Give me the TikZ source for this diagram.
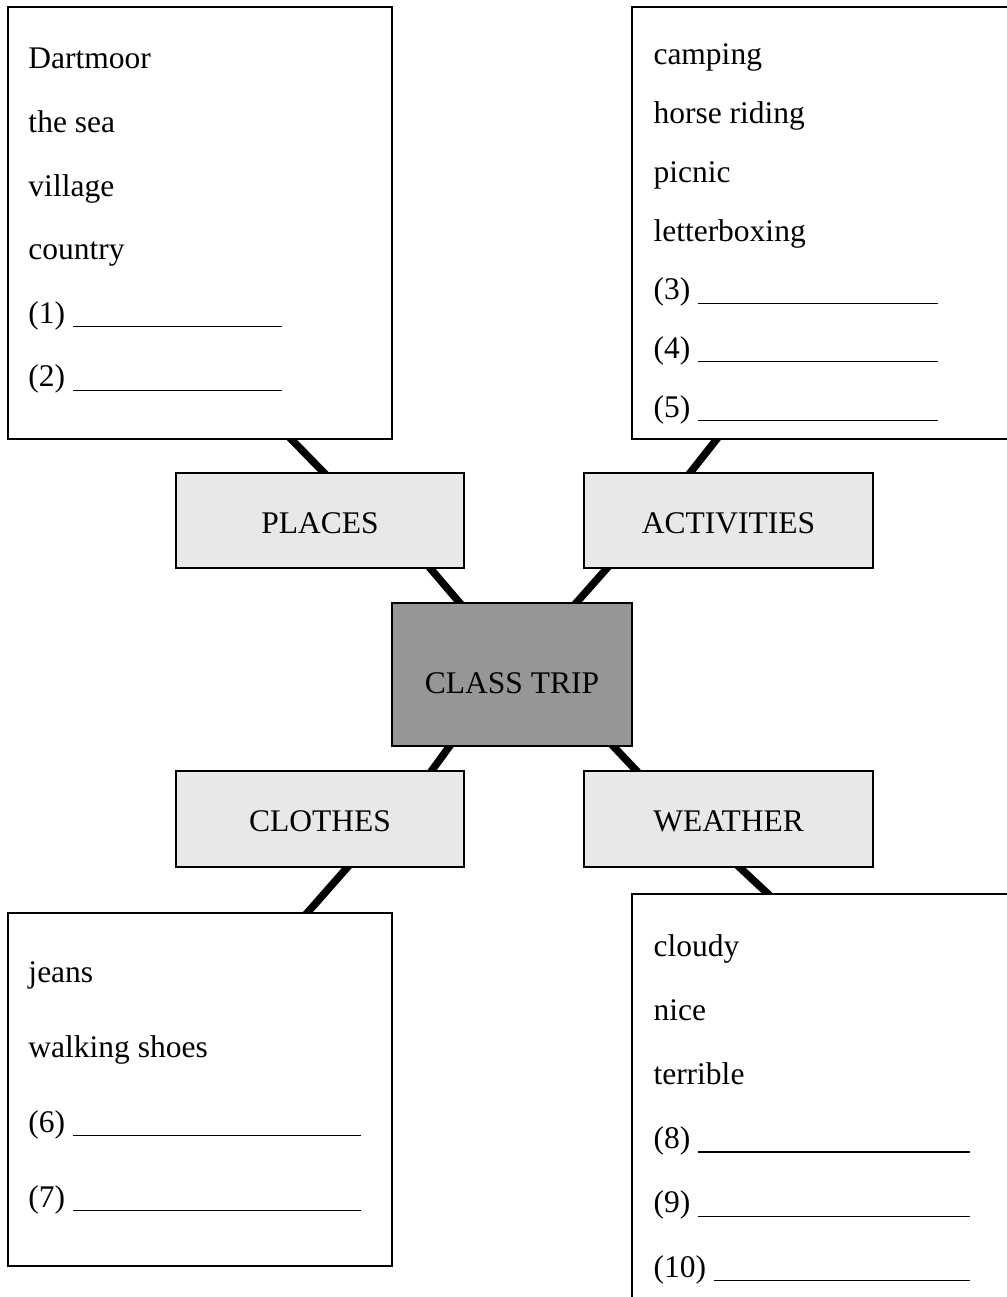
\documentclass[tikz,border=0pt]{standalone}
\usepackage{fontspec}
\setmainfont{Liberation Serif}
\usepackage{tikz}
\usetikzlibrary{calc}
\usetikzlibrary{backgrounds}

\definecolor{topicgray}{RGB}{232,232,232}
\definecolor{tripgray}{RGB}{150,150,150}

\newcommand{\fillline}[1]{\rule[-1.6pt]{#1}{0.5pt}}

\tikzset{
    listbox/.style = {draw, line width = 0.8pt, fill = white, rectangle, inner sep = 0pt},
    topicbox/.style = {draw, line width = 0.8pt, fill = topicgray, rectangle,
        minimum width = 115.4pt, minimum height = 38.2pt, text height = 10.3pt, text depth = 0pt},
    item/.style = {anchor = base west, inner sep = 0pt},
    link/.style = {line width = 3pt, shorten < = -4pt, shorten > = -4pt}
}

\begin{document}
\begin{tikzpicture}[x = 0.4pt, y = -0.4pt, font = \fontsize{12.6}{15}\selectfont]
        \useasboundingbox (0, 0) rectangle (1006, 1297);

        \node[listbox, minimum width = 153.6pt, minimum height = 172.8pt] (places list) at (200, 223) {};
        \node[listbox, minimum width = 155.2pt, minimum height = 172.8pt] (activities list) at (826, 223) {};
        \node[listbox, minimum width = 153.6pt, minimum height = 141.2pt] (clothes list) at (200, 1089.5) {};
        \node[listbox, minimum width = 155.2pt, minimum height = 166.4pt] (weather list) at (826, 1102) {};

        \node[topicbox] (places) at (320, 520.5) {PLACES};
        \node[topicbox] (activities) at (728.5, 520.5) {ACTIVITIES};
        \node[topicbox] (clothes) at (320, 819) {CLOTHES};
        \node[topicbox] (weather) at (728.5, 819) {WEATHER};
        \node[topicbox, fill = tripgray, minimum width = 96pt, minimum height = 57.2pt,
            text height = 15pt] (trip) at (512, 674.5) {CLASS TRIP};

        \foreach \txt [count = \i] in {Dartmoor, the sea, village, country,
            {(1) \fillline{83.6pt}}, {(2) \fillline{83.6pt}}}
            \node[item] (pl\i) at (28, {69 + 63.6*(\i - 1)}) {\txt};
        \foreach \txt [count = \i] in {camping, horse riding, picnic, letterboxing,
            {(3) \fillline{96pt}}, {(4) \fillline{96pt}}, {(5) \fillline{96pt}}}
            \node[item] (ac\i) at (653, {65 + 58.7*(\i - 1)}) {\txt};
        \foreach \txt [count = \i] in {jeans, walking shoes,
            {(6) \fillline{115.2pt}}, {(7) \fillline{115.2pt}}}
            \node[item] (cl\i) at (28, {982 + 75*(\i - 1)}) {\txt};
        \foreach \txt [count = \i] in {cloudy, nice, terrible,
            {(8) \fillline{108.8pt}}, {(9) \fillline{108.8pt}}, {(10) \fillline{102.4pt}}}
            \node[item] (we\i) at (653, {956 + 64.2*(\i - 1)}) {\txt};

        \begin{scope}[on background layer]
            \draw[link] ($(places list.south) + (92, 0)$) -- ($(places.north) + (3, 0)$);
            \draw[link] ($(places.south) + (111, 0)$) -- ($(trip.north) + (-53, 0)$);
            \draw[link] ($(activities list.south) + (-110, 0)$) -- ($(activities.north) + (-37.5, 0)$);
            \draw[link] ($(activities.south) + (-122.5, 0)$) -- ($(trip.north) + (65, 0)$);
            \draw[link] ($(trip.south) + (-63, 0)$) -- ($(clothes.north) + (112, 0)$);
            \draw[link] ($(clothes.south) + (27, 0)$) -- ($(clothes list.north) + (108, 0)$);
            \draw[link] ($(trip.south) + (102, 0)$) -- ($(weather.north) + (-92.5, 0)$);
            \draw[link] ($(weather.south) + (11.5, 0)$) -- ($(weather list.north) + (-59, 0)$);
        \end{scope}
\end{tikzpicture}
\end{document}
